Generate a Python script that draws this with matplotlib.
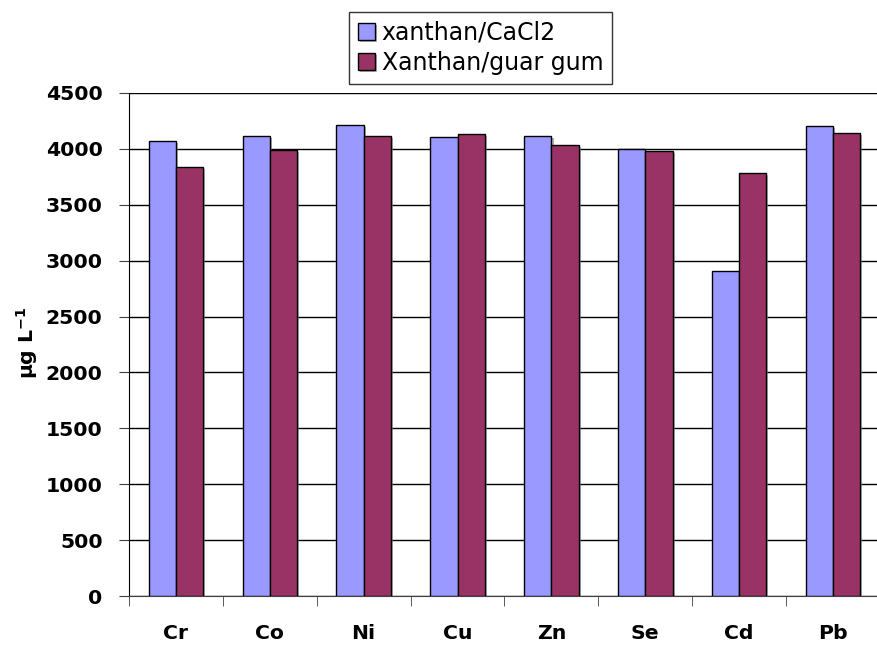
import matplotlib
matplotlib.use("Agg")
import matplotlib.pyplot as plt
import matplotlib.patheffects as pe
import numpy as np

categories = ["Cr", "Co", "Ni", "Cu", "Zn", "Se", "Cd", "Pb"]
series_names = ["xanthan/CaCl2", "Xanthan/guar gum"]
xanthan_cacl2 = [4073, 4114, 4216, 4103, 4112, 4001, 2904, 4207]
xanthan_guar = [3840, 3990, 4117, 4132, 4034, 3980, 3781, 4139]
y_ticks = [0, 500, 1000, 1500, 2000, 2500, 3000, 3500, 4000, 4500]

plt.rcParams['font.family'] = ['DejaVu Sans']

fig = plt.figure(figsize=(8.78, 6.47), dpi=100)
ax = fig.add_axes([129/878, 1 - 596/647, (880-129)/878, (596-93)/647])

x = np.arange(len(categories))
w = 0.29
shadow = [pe.SimplePatchShadow(offset=(1.5, -1.5), shadow_rgbFace="#808080", alpha=0.6), pe.Normal()]
b1 = ax.bar(x - w/2, xanthan_cacl2, width=w, color="#9999FF", edgecolor="black", linewidth=1.0,
            label=series_names[0], zorder=3)
b2 = ax.bar(x + w/2, xanthan_guar, width=w, color="#993366", edgecolor="black", linewidth=1.0,
            label=series_names[1], zorder=3)
for p in list(b1) + list(b2):
    p.set_path_effects(shadow)

ax.set_xlim(-0.5, len(categories) - 0.5)
ax.set_ylim(0, 4500)
ax.set_yticks(y_ticks)
ax.set_yticklabels([str(v) for v in y_ticks], fontsize=14.7, fontweight="bold")
ax.yaxis.grid(True, color="black", linewidth=1.0, zorder=0)
ax.set_axisbelow(True)

ax.set_xticks(x)
ax.set_xticklabels(categories, fontsize=14.7, fontweight="bold")
ax.tick_params(axis="x", which="major", length=0, pad=20)
ax.set_xticks(np.arange(len(categories) + 1) - 0.5, minor=True)
ax.tick_params(axis="x", which="minor", length=7, direction="out", color="#404040")
ax.tick_params(axis="y", length=7, direction="out", color="#404040", pad=12)

for s in ["top", "right"]:
    ax.spines[s].set_visible(False)
ax.spines["left"].set_color("black")
ax.spines["bottom"].set_color("#404040")

fig.text(27/878, 1 - 343/647, "µg L$^{\\mathbf{-1}}$", rotation=90, ha="center", va="center",
         fontsize=14.7, fontweight="bold")

leg = ax.legend(loc="upper center", fontsize=17, frameon=True, fancybox=False, edgecolor="black",
                handlelength=0.72, handleheight=0.72, handletextpad=0.3, borderpad=0.38,
                labelspacing=0.25, borderaxespad=0)
leg.get_frame().set_linewidth(1.0)
leg.set_bbox_to_anchor((480.5/878, 1 - 12/647), transform=fig.transFigure)

fig.savefig("out.png", dpi=100)
